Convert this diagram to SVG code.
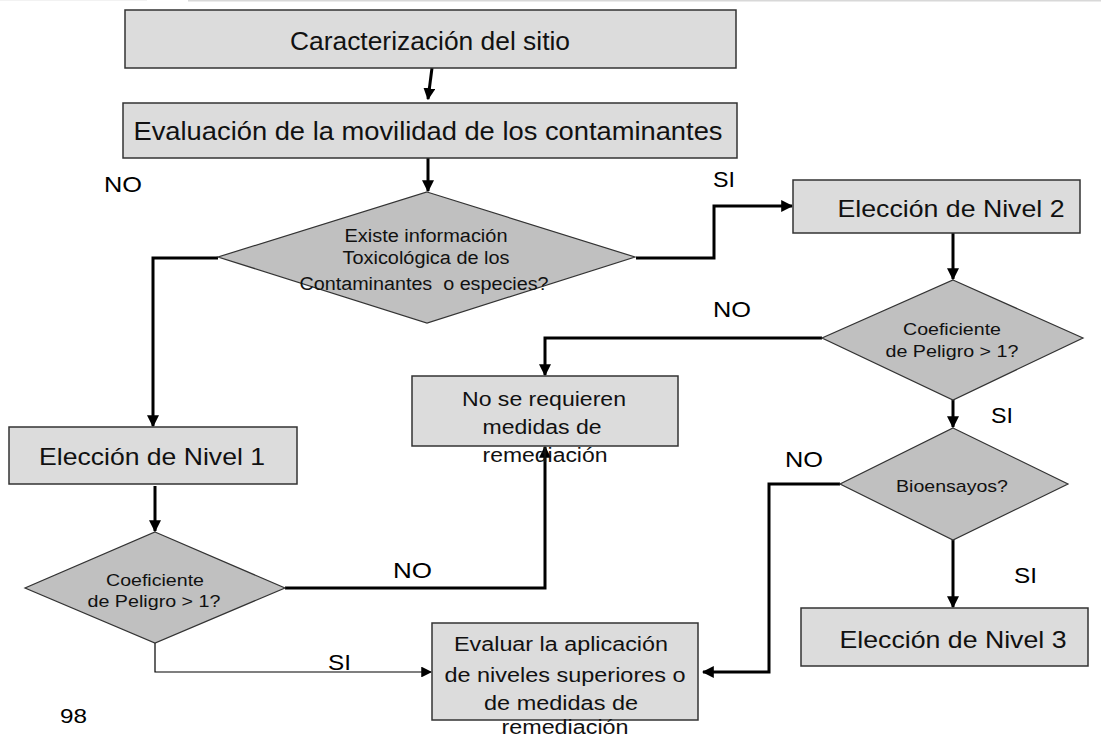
<svg xmlns="http://www.w3.org/2000/svg" width="1101" height="740" viewBox="0 0 1101 740">
<defs>
<style>
.box{fill:#dcdcdc;stroke:#333;stroke-width:1.5}
.dia{fill:#c0c0c0;stroke:#333;stroke-width:1.2}
.t{font-family:"Liberation Sans",Arial,sans-serif;fill:#111;text-anchor:middle}
.lbl{font-family:"Liberation Sans",Arial,sans-serif;fill:#000;font-size:22px}
.c{fill:none;stroke:#000;stroke-width:3}
.ct{fill:none;stroke:#000;stroke-width:1.2}
</style>
<marker id="ah" viewBox="0 0 10 10" refX="9" refY="5" markerWidth="4" markerHeight="4" orient="auto" markerUnits="strokeWidth"><path d="M0,0 L10,5 L0,10 z" fill="#000"/></marker>
<marker id="ahs" viewBox="0 0 10 10" refX="9" refY="5" markerWidth="9" markerHeight="9" orient="auto" markerUnits="strokeWidth"><path d="M0,0 L10,5 L0,10 z" fill="#000"/></marker>
</defs>
<rect width="1101" height="740" fill="#fff"/>
<line x1="188" y1="0.5" x2="1101" y2="0.5" stroke="#d8d8d8" stroke-width="2"/>
<line x1="0" y1="0.5" x2="147" y2="0.5" stroke="#f2f2f2" stroke-width="1"/>

<g id="connectors">
<path class="c" d="M432,68 L428,99" marker-end="url(#ah)"/>
<path class="c" d="M428,158 L428,191" marker-end="url(#ah)"/>
<path class="c" d="M636,258 L714,258 L714,206 L792,206" marker-end="url(#ah)"/>
<path class="c" d="M218,258 L153,258 L153,426" marker-end="url(#ah)"/>
<path class="c" d="M953,233 L953,279" marker-end="url(#ah)"/>
<path class="c" d="M822,338 L545,338 L545,375" marker-end="url(#ah)"/>
<path class="c" d="M953,400 L953,427" marker-end="url(#ah)"/>
<path class="c" d="M840,484 L769,484 L769,672 L703,672" marker-end="url(#ah)"/>
<path class="c" d="M953,540 L953,607" marker-end="url(#ah)"/>
<path class="c" d="M155,486 L155,531" marker-end="url(#ah)"/>
<path class="c" d="M285,588 L545,588 L545,447" marker-end="url(#ah)"/>
<path class="ct" d="M155,643 L155,672 L431,672" marker-end="url(#ahs)"/>
</g>

<g id="labels">
<text class="lbl" x="104" y="192" textLength="38" lengthAdjust="spacingAndGlyphs">NO</text>
<text class="lbl" x="713" y="187" textLength="22" lengthAdjust="spacingAndGlyphs">SI</text>
<text class="lbl" x="713" y="317" textLength="38" lengthAdjust="spacingAndGlyphs">NO</text>
<text class="lbl" x="991" y="423" textLength="22" lengthAdjust="spacingAndGlyphs">SI</text>
<text class="lbl" x="785" y="467" textLength="38" lengthAdjust="spacingAndGlyphs">NO</text>
<text class="lbl" x="1014" y="583" textLength="23" lengthAdjust="spacingAndGlyphs">SI</text>
<text class="lbl" x="393" y="578" textLength="39" lengthAdjust="spacingAndGlyphs">NO</text>
<text class="lbl" x="328" y="670" textLength="23" lengthAdjust="spacingAndGlyphs">SI</text>
<text class="lbl" x="60" y="723" style="font-size:20px" textLength="27" lengthAdjust="spacingAndGlyphs">98</text>
</g>

<g id="n1">
<rect class="box" x="125" y="10" width="611" height="58"/>
<text class="t" x="430" y="50" font-size="25" textLength="280" lengthAdjust="spacingAndGlyphs">Caracterización del sitio</text>
</g>
<g id="n2">
<rect class="box" x="123" y="103" width="614" height="55"/>
<text class="t" x="428" y="140" font-size="25" textLength="589" lengthAdjust="spacingAndGlyphs">Evaluación de la movilidad de los contaminantes</text>
</g>
<g id="n3">
<polygon class="dia" points="427,192 635,257 427,323 218,257"/>
<text class="t" x="426" y="242" font-size="18" textLength="163" lengthAdjust="spacingAndGlyphs">Existe información</text>
<text class="t" x="426" y="264" font-size="18" textLength="167" lengthAdjust="spacingAndGlyphs">Toxicológica de los</text>
<text class="t" x="424" y="290" font-size="18" textLength="249" lengthAdjust="spacingAndGlyphs" xml:space="preserve">Contaminantes  o especies?</text>
</g>
<g id="n4">
<rect class="box" x="793" y="180" width="287" height="53"/>
<text class="t" x="951" y="217" font-size="24" textLength="227" lengthAdjust="spacingAndGlyphs">Elección de Nivel 2</text>
</g>
<g id="n5">
<polygon class="dia" points="953,280 1083,338 953,400 822,338"/>
<text class="t" x="952" y="335" font-size="17" textLength="98" lengthAdjust="spacingAndGlyphs">Coeficiente</text>
<text class="t" x="952" y="357" font-size="17" textLength="133" lengthAdjust="spacingAndGlyphs">de Peligro &gt; 1?</text>
</g>
<g id="n6">
<rect class="box" x="412" y="376" width="266" height="70"/>
<text class="t" x="544" y="406" font-size="20" textLength="164" lengthAdjust="spacingAndGlyphs">No se requieren</text>
<text class="t" x="542" y="434" font-size="20" textLength="119" lengthAdjust="spacingAndGlyphs">medidas de</text>
<text class="t" x="545" y="462" font-size="20" textLength="125" lengthAdjust="spacingAndGlyphs">remediación</text>
</g>
<g id="n7">
<polygon class="dia" points="953,428 1068,484 953,540 840,484"/>
<text class="t" x="952" y="492" font-size="17" textLength="112" lengthAdjust="spacingAndGlyphs">Bioensayos?</text>
</g>
<g id="n8">
<rect class="box" x="9" y="427" width="288" height="57"/>
<text class="t" x="152" y="465" font-size="24" textLength="226" lengthAdjust="spacingAndGlyphs">Elección de Nivel 1</text>
</g>
<g id="n9">
<polygon class="dia" points="155,532 285,588 155,643 25,588"/>
<text class="t" x="155" y="586" font-size="17" textLength="98" lengthAdjust="spacingAndGlyphs">Coeficiente</text>
<text class="t" x="154" y="607" font-size="17" textLength="133" lengthAdjust="spacingAndGlyphs">de Peligro &gt; 1?</text>
</g>
<g id="n10">
<rect class="box" x="801" y="608" width="287" height="58"/>
<text class="t" x="953" y="648" font-size="24" textLength="227" lengthAdjust="spacingAndGlyphs">Elección de Nivel 3</text>
</g>
<g id="n11">
<rect class="box" x="432" y="623" width="266" height="97"/>
<text class="t" x="561" y="651" font-size="20" textLength="214" lengthAdjust="spacingAndGlyphs">Evaluar la aplicación</text>
<text class="t" x="565" y="682" font-size="20" textLength="241" lengthAdjust="spacingAndGlyphs">de niveles superiores o</text>
<text class="t" x="561" y="710" font-size="20" textLength="154" lengthAdjust="spacingAndGlyphs">de medidas de</text>
<text class="t" x="565" y="734" font-size="20" textLength="127" lengthAdjust="spacingAndGlyphs">remediación</text>
</g>
</svg>
